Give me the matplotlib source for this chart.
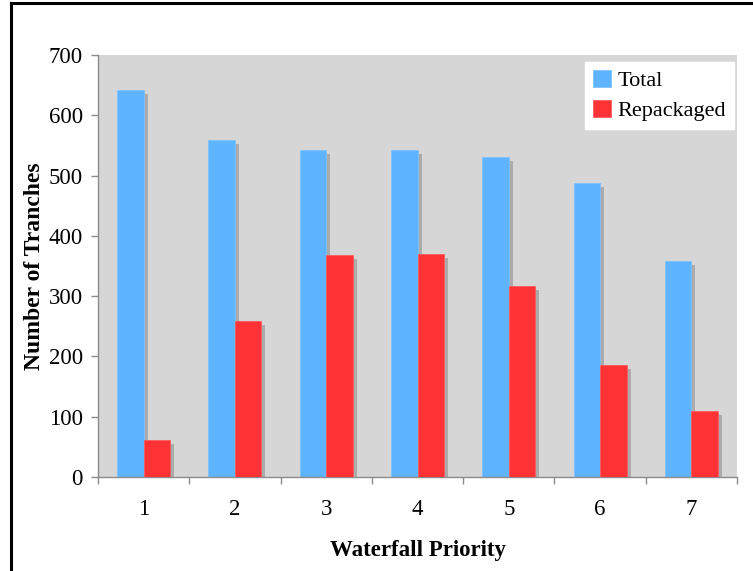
import matplotlib
matplotlib.use("Agg")
import matplotlib.pyplot as plt
import matplotlib.transforms as mtransforms
from matplotlib.lines import Line2D
import numpy as np

# Tranche counts by waterfall priority
priorities = ["1", "2", "3", "4", "5", "6", "7"]
total = [642, 559, 543, 543, 530, 488, 358]
repackaged = [62, 258, 369, 370, 317, 186, 109]
series_names = ["Total", "Repackaged"]
y_ticks = [0, 100, 200, 300, 400, 500, 600, 700]

plt.rcParams["font.family"] = ["Liberation Serif", "DejaVu Serif"]

fig = plt.figure(figsize=(7.53, 5.71), dpi=100)
ax = fig.add_axes([98 / 753, 94 / 571, 639 / 753, 422 / 571])
ax.set_facecolor("#d6d6d6")

x = np.arange(len(priorities))
w = 0.29
blue = "#5fb4ff"
red = "#ff3336"
shadow_col = "#ababab"

# drop shadows: same bars shifted a few pixels right and down
shadow_tr = mtransforms.offset_copy(ax.transData, fig=fig, x=4, y=-4, units="dots")
ax.bar(x - w / 2, total, w, color=shadow_col, transform=shadow_tr, zorder=1)
ax.bar(x + w / 2, repackaged, w, color=shadow_col, transform=shadow_tr, zorder=1)

ax.bar(x - w / 2, total, w, color=blue, edgecolor="#7cc2ff", linewidth=0.6,
       label=series_names[0], zorder=2)
ax.bar(x + w / 2, repackaged, w, color=red, edgecolor="#ff5a5c", linewidth=0.6,
       label=series_names[1], zorder=3)

ax.set_xlim(-0.5, len(priorities) - 0.5)
ax.set_ylim(0, 700)
ax.set_yticks(y_ticks)
ax.set_yticklabels([str(v) for v in y_ticks])

# category labels centred, tick marks between categories
ax.set_xticks(np.arange(-0.5, len(priorities), 1.0))
ax.set_xticklabels([])
ax.set_xticks(x, minor=True)
ax.set_xticklabels(priorities, minor=True)
ax.tick_params(axis="x", which="minor", length=0, pad=16, labelsize=16.5)
ax.tick_params(axis="x", which="major", length=5, color="#8c8c8c", width=1)
ax.tick_params(axis="y", length=5, color="#8c8c8c", width=1, pad=6, labelsize=16.5)

for side in ("top", "right"):
    ax.spines[side].set_visible(False)
for side in ("left", "bottom"):
    ax.spines[side].set_color("#8c8c8c")
    ax.spines[side].set_linewidth(1)

ax.set_xlabel("Waterfall Priority", fontsize=16.5, fontweight="bold", labelpad=14)
ax.set_ylabel("Number of Tranches", fontsize=17, fontweight="bold")
ax.yaxis.set_label_coords(-0.083, 0.5)

leg = ax.legend(loc="upper right", bbox_to_anchor=(0.9953, 0.9834),
                borderaxespad=0, fontsize=16, frameon=True, fancybox=False,
                handlelength=0.8, handleheight=0.8, handletextpad=0.3,
                labelspacing=0.4, borderpad=0.35)
leg.get_frame().set_facecolor("white")
leg.get_frame().set_edgecolor("white")
leg.get_frame().set_alpha(1)

# page frame along the left and top edges
fig.add_artist(Line2D([11 / 753, 11 / 753], [0, 1 - 3 / 571],
                      transform=fig.transFigure, color="black", linewidth=2.2))
fig.add_artist(Line2D([11 / 753, 1], [1 - 3 / 571, 1 - 3 / 571],
                      transform=fig.transFigure, color="black", linewidth=2.2))

fig.savefig("out.png", dpi=100, facecolor="white")
